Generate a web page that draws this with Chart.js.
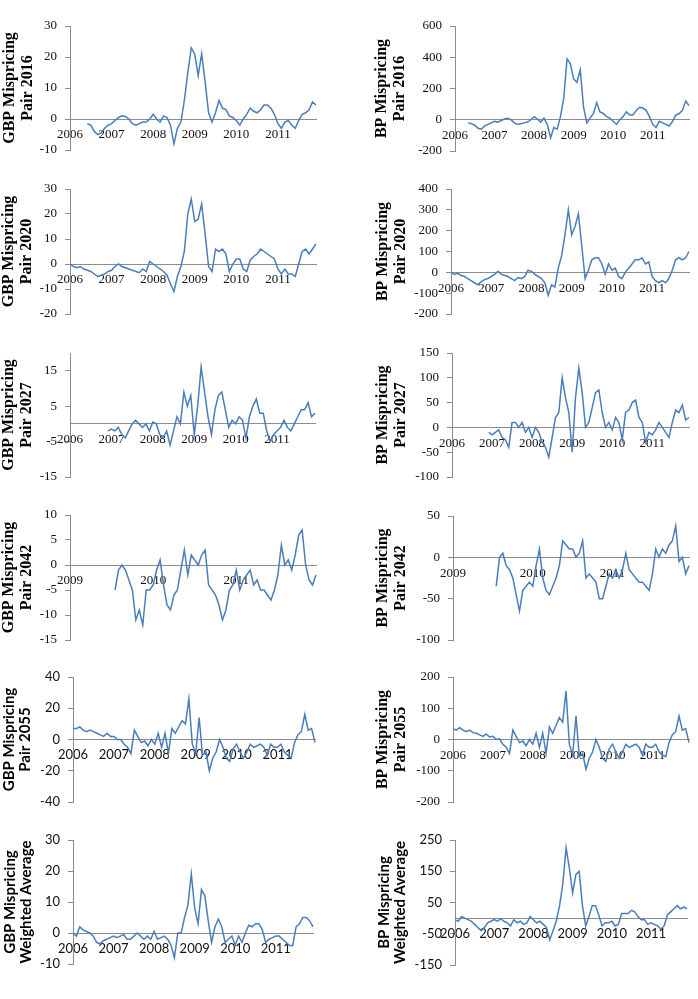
<!DOCTYPE html>
<html><head><meta charset="utf-8">
<script src="https://cdn.jsdelivr.net/npm/chart.js@4.4.1/dist/chart.umd.min.js"></script>
<style>
html,body{margin:0;padding:0;background:#fff}
body{width:698px;height:999px;position:relative;overflow:hidden}
canvas{position:absolute}
</style></head><body>
<script>
// ---- categories ----
const months = [
"2006-01","2006-02","2006-03","2006-04","2006-05","2006-06","2006-07","2006-08","2006-09","2006-10","2006-11","2006-12",
"2007-01","2007-02","2007-03","2007-04","2007-05","2007-06","2007-07","2007-08","2007-09","2007-10","2007-11","2007-12",
"2008-01","2008-02","2008-03","2008-04","2008-05","2008-06","2008-07","2008-08","2008-09","2008-10","2008-11","2008-12",
"2009-01","2009-02","2009-03","2009-04","2009-05","2009-06","2009-07","2009-08","2009-09","2009-10","2009-11","2009-12",
"2010-01","2010-02","2010-03","2010-04","2010-05","2010-06","2010-07","2010-08","2010-09","2010-10","2010-11","2010-12",
"2011-01","2011-02","2011-03","2011-04","2011-05","2011-06","2011-07","2011-08","2011-09","2011-10","2011-11","2011-12"];
const halfMonths = [
"2009-01a","2009-01b","2009-02a","2009-02b","2009-03a","2009-03b","2009-04a","2009-04b","2009-05a","2009-05b","2009-06a","2009-06b",
"2009-07a","2009-07b","2009-08a","2009-08b","2009-09a","2009-09b","2009-10a","2009-10b","2009-11a","2009-11b","2009-12a","2009-12b",
"2010-01a","2010-01b","2010-02a","2010-02b","2010-03a","2010-03b","2010-04a","2010-04b","2010-05a","2010-05b","2010-06a","2010-06b",
"2010-07a","2010-07b","2010-08a","2010-08b","2010-09a","2010-09b","2010-10a","2010-10b","2010-11a","2010-11b","2010-12a","2010-12b",
"2011-01a","2011-01b","2011-02a","2011-02b","2011-03a","2011-03b","2011-04a","2011-04b","2011-05a","2011-05b","2011-06a","2011-06b",
"2011-07a","2011-07b","2011-08a","2011-08b","2011-09a","2011-09b","2011-10a","2011-10b","2011-11a","2011-11b","2011-12a","2011-12b"];

// ---- series values ----
const gbp2016 = [null,null,null,null,null,
 -1.5,-2,-4,-5,-4.5,-3,-2,-1.5,-0.5,0.5,1,0.8,0,-1.5,-2,-1.5,-1,-1,0,1.5,0,-1,1,0.5,-2,
 -8,-3,-1,6,15,23,21,14,21,12,2,-1,2,6,3.5,3,1,0.5,-0.5,-2,0,1.5,3.5,2.5,2,3,4.5,4.5,3.5,1.5,
 -1.5,-3,-1,-0.5,-2,-3,-0.5,1.5,2,3,5.5,4.5];
const bp2016 = [null,null,null,null,
 -20,-25,-35,-55,-60,-40,-30,-20,-10,-15,-5,5,10,0,-20,-30,-25,-20,-15,0,20,5,-15,10,-30,-115,
 -50,-60,20,140,390,360,260,240,320,80,-20,10,40,110,50,40,20,10,-10,-30,0,20,50,30,30,60,80,75,60,20,
 -30,-50,-10,-20,-30,-40,-10,30,40,60,120,90];
const gbp2020 = [0,-1,-1.5,-1,-2,-2.5,-3,-4,-5,-4.5, -4,-3,-2.5,-1,0,-1,-1.5,-2,-2.5,-3,
 -3.5,-2,-3,1,0,-1,-2,-3,-4.5,-8, -11,-5,-1,5,20,26,17,18,24,12,
 -1,-3,6,5,6,4,-3,0,2,2, -2,-3,1.5,3,4,6,5,4,3,2, -2,-4,-2,-4,-4,-5,0,5,6,4, 6,8];
const bp2020 = [0,-10,-5,-15,-20,-30,-40,-50,-60,-45, -35,-30,-20,-10,5,-10,-15,-20,-30,-40,
 -25,-30,-20,10,5,-10,-20,-30,-50,-110, -60,-70,20,80,180,300,180,220,280,130,
 -30,10,60,70,70,40,-10,40,10,20, -20,-30,0,20,40,60,60,70,40,50, -20,-40,-50,-40,-50,-30,10,60,70,60, 70,100];
const gbp2027 = [null,null,null,null,null,null,null,null,null,null,null,
 -2,-1.5,-2,-1,-3,-4,-2,0,1, 0,-1,0,-2,0.5,0,-3,-4,-2,-6, -2,2,0,9,5,8,-3,5,16,9,
 2,-3,4,8,9,4,-1,1,0,2, 1,-4,2,5,7,3,3,-2,-5,-3, -2,-1,1,-1,-2,0,2,4,4,6, 2,3];
const bp2027 = [null,null,null,null,null,null,null,null,null,null,null,
 -10,-15,-10,-5,-20,-25,-40,10,10, 0,10,-10,0,-20,0,-10,-30,-40,-60, -20,20,30,100,60,30,-50,60,120,70,
 0,10,40,70,75,30,0,10,-5,20, 10,-25,30,35,50,55,20,10,-30,-10, -15,-5,10,0,-10,-20,10,35,30,45, 15,20];
const gbp2042 = [null,null,null,null,null,null,null,null,null,null,null,null,null,
 -5,-1,0,-1,-3,-5,-11, -9,-12,-5,-5,-4,-1,1,-4,-8,-9, -6,-5,-1,3,-2,2,1,0,2,3,
 -4,-5,-6,-8,-11,-9,-5,-4,-1,-5, -3,-2,-1,-4,-3,-5,-5,-6,-7,-5, -2,4,0,1,-1,2,6,7,0,-3, -4,-2];
const bp2042 = [null,null,null,null,null,null,null,null,null,null,null,null,null,
 -35,0,5,-10,-15,-25,-45, -65,-40,-35,-30,-35,-10,10,-25,-40,-45, -35,-25,-10,20,15,10,10,0,5,20,
 -25,-20,-25,-30,-50,-50,-35,-20,-25,-15, -25,-15,5,-15,-20,-25,-30,-30,-35,-40, -20,10,0,10,5,15,20,38,-5,0, -20,-10];
const gbp2055 = [7,7,8,6,5,6,5,4,3,2, 4,2,2,0,0,-3,-5,-9,6,2, -2,-1,-4,0,-3,4,-5,4,-9,7,
 4,8,12,10,26,-3,-9,14,-10,-8, -20,-12,-8,0,-5,-12,-14,-6,-3,-8, -12,-8,-3,-5,-4,-3,-5,-10,-3,-5,
 -5,-3,-8,-10,-12,-2,3,5,16,6, 7,-2];
const bp2055 = [35,30,38,30,25,30,22,20,15,10, 18,8,10,0,2,-15,-25,-45,30,10, -10,-5,-20,0,-15,20,-25,20,-45,40,
 20,45,70,55,155,-15,-50,75,-55,-45, -95,-60,-40,0,-25,-60,-70,-30,-15,-40, -60,-40,-15,-25,-20,-15,-25,-50,-15,-25,
 -25,-15,-40,-50,-55,-10,15,25,75,30, 35,-10];
const gbpWA = [0,-1,2,1,0.5,0,-1,-3,-3.5,-2.5, -2,-1.5,-1,-1.5,-1,-0.5,-2,-2,-1,0, -1,-2,-1,-2,0.5,-2,-1.5,-1,-2,-4,
 -8,0,0,5,9,19,8,3,14,12, 4,-3,2,4.5,2,-3,-2,-1,-4,-1, -3,0,2.5,2,3,3,1,-3,-2,-1.5,
 -1,-1,-2,-3,-4,-4,2,3,5,5, 4,2];
const bpWA = [-5,-10,5,0,-5,-10,-20,-30,-40,-30, -15,-10,-5,-10,-2,-10,-15,-25,-5,-15, -10,-20,-15,5,-5,-15,-10,-20,-30,-70,
 -40,-10,40,110,225,160,80,140,150,40, -25,5,40,40,10,-25,-15,-15,-10,-25, -20,15,15,15,25,20,5,-5,-5,-20,
 -15,-20,-25,-35,-25,10,20,30,40,30, 35,30];

// ---- y tick labels ----
const ticksGbp2016 = [-10,0,10,20,30];
const ticksBp2016 = [-200,0,200,400,600];
const ticksGbp2020 = [-20,-10,0,10,20,30];
const ticksBp2020 = [-200,-100,0,100,200,300,400];
const ticksGbp2027 = [-15,-5,5,15];
const ticksBp2027 = [-100,-50,0,50,100,150];
const ticksGbp2042 = [-15,-10,-5,0,5,10];
const ticksBp2042 = [-100,-50,0,50];
const ticksGbp2055 = [-40,-20,0,20,40];
const ticksBp2055 = [-200,-100,0,100,200];
const ticksGbpWA = [-10,0,10,20,30];
const ticksBpWA = [-150,-50,50,150,250];

const serif = "'Liberation Serif','Times New Roman',serif";
const sans = "Lato,'Open Sans',sans-serif";

// geo: canvasLeft, axisX, plotTop, plotBottom, plotRight, titleCenterX
const panels = [
 {labels:months, yearMark:'-01', values:gbp2016, ticks:ticksGbp2016, min:-10, max:30, title:['GBP Mispricing','Pair 2016'], family:serif, geo:[0,70,26,150,316,10]},
 {labels:months, yearMark:'-01', values:bp2016, ticks:ticksBp2016, min:-200, max:600, title:['BP Mispricing','Pair 2016'], family:serif, geo:[349,455,26,151,689,382]},
 {labels:months, yearMark:'-01', values:gbp2020, ticks:ticksGbp2020, min:-20, max:30, title:['GBP Mispricing','Pair 2020'], family:serif, geo:[0,70,189,314,316,9]},
 {labels:months, yearMark:'-01', values:bp2020, ticks:ticksBp2020, min:-200, max:400, title:['BP Mispricing','Pair 2020'], family:serif, geo:[349,451,189,314,689,383]},
 {labels:months, yearMark:'-01', values:gbp2027, ticks:ticksGbp2027, min:-15, max:20, title:['GBP Mispricing','Pair 2027'], family:serif, geo:[0,70,353,477,315,9]},
 {labels:months, yearMark:'-01', values:bp2027, ticks:ticksBp2027, min:-100, max:150, title:['BP Mispricing','Pair 2027'], family:serif, geo:[349,452,353,477,689,383]},
 {labels:halfMonths, yearMark:'-01a', values:gbp2042, ticks:ticksGbp2042, min:-15, max:10, title:['GBP Mispricing','Pair 2042'], family:serif, geo:[0,70,515,640,316,9]},
 {labels:halfMonths, yearMark:'-01a', values:bp2042, ticks:ticksBp2042, min:-100, max:50, title:['BP Mispricing','Pair 2042'], family:serif, geo:[349,453,516,640,689,383]},
 {labels:months, yearMark:'-01', values:gbp2055, ticks:ticksGbp2055, min:-40, max:40, title:['GBP Mispricing','Pair 2055'], family:sans, geo:[0,73,677,802,315,9]},
 {labels:months, yearMark:'-01', values:bp2055, ticks:ticksBp2055, min:-200, max:200, title:['BP Mispricing','Pair 2055'], family:serif, geo:[349,453,677,802,689,383]},
 {labels:months, yearMark:'-01', values:gbpWA, ticks:ticksGbpWA, min:-10, max:30, title:['GBP Mispricing','Weighted Average'], family:sans, geo:[0,73,840,964,313,10]},
 {labels:months, yearMark:'-01', values:bpWA, ticks:ticksBpWA, min:-150, max:250, title:['BP Mispricing','Weighted Average'], family:sans, geo:[349,455,840,965,687,384]}
];

panels.forEach(p => {
  const [cl, ax, top, bottom, right, tx] = p.geo;
  const W = 349, padT = 20, padB = 24;
  const H = bottom - top + padT + padB;
  const cv = document.createElement('canvas');
  cv.width = W; cv.height = H;
  cv.style.left = cl + 'px'; cv.style.top = (top - padT) + 'px';
  cv.style.width = W + 'px'; cv.style.height = H + 'px';
  document.body.appendChild(cv);
  const isSerif = p.family === serif;
  const tSize = isSerif ? 16 : 15;
  const lh = 1.1;
  const titleLeft = tx - tSize * lh / 2;
  const padL = titleLeft - cl;
  const yW = ax - titleLeft;
  const padR = cl + W - right;
  const tk = p.ticks;
  new Chart(cv, {
    type: 'line',
    data: {labels: p.labels, datasets: [{data: p.values, borderColor: '#4A7EBB', borderWidth: 1.5, pointRadius: 0, tension: 0, spanGaps: false}]},
    options: {
      responsive: false, animation: false, devicePixelRatio: 1,
      layout: {padding: {left: padL, right: padR, top: padT, bottom: padB}},
      plugins: {legend: {display: false}, tooltip: {enabled: false}},
      scales: {
        x: {type: 'category', position: {y: 0},
            grid: {display: false, drawTicks: false},
            border: {display: true, color: '#8c8c8c', width: 1},
            ticks: {autoSkip: false, maxRotation: 0, minRotation: 0, padding: 8, color: '#111',
              font: {family: p.family, size: 13},
              callback: function(v) { const l = this.getLabelForValue(v); return l.endsWith(p.yearMark) ? l.slice(0, 4) : ''; }}},
        y: {min: p.min, max: p.max,
            afterBuildTicks: s => { s.ticks = tk.map(v => ({value: v})); },
            afterFit: s => { s.width = yW; },
            grid: {display: true, drawOnChartArea: false, drawTicks: true, tickLength: 5, color: '#8c8c8c'},
            border: {display: true, color: '#8c8c8c', width: 1},
            ticks: {padding: 8, color: '#111', font: {family: p.family, size: 13}},
            title: {display: true, text: p.title, color: '#000', padding: 0,
              font: {family: p.family, size: tSize, weight: 'bold', lineHeight: lh}}}
      }
    }
  });
});
</script>
</body></html>
